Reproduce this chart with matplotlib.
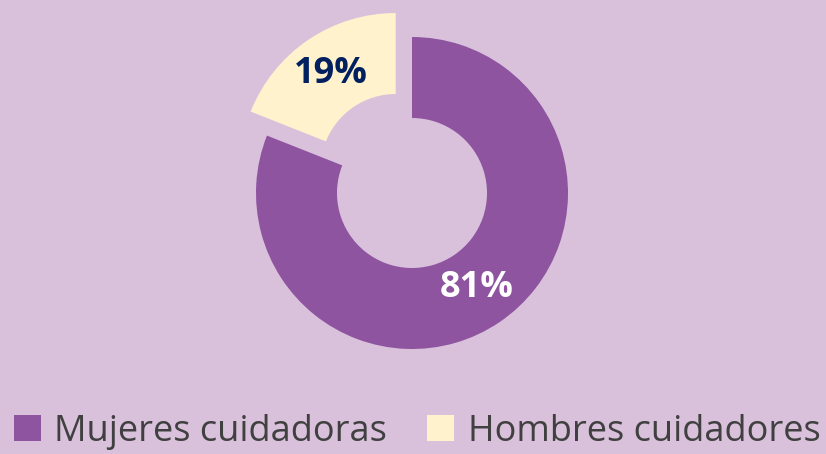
import matplotlib.pyplot as plt

# --- Cuidadores por sexo (donut) ---
labels = ['Mujeres cuidadoras', 'Hombres cuidadores']
values = [81, 19]
colors = ['#8E549F', '#FFF2CC']
pct_colors = ['white', '#002060']
bg = '#D9C1DC'

plt.rcParams['font.family'] = ['Open Sans', 'DejaVu Sans']

fig = plt.figure(figsize=(8.26, 4.54), dpi=100, facecolor=bg)
ax = fig.add_axes([0, 0, 1, 1])
ax.set_facecolor(bg)

# axes in pixel units so the ring sits where it does in the original
wedges, texts, autotexts = ax.pie(
    values, colors=colors, startangle=90, counterclock=False,
    radius=156, center=(412, 261), explode=[0, 29],
    wedgeprops=dict(width=81, linewidth=0),
    autopct='%1.0f%%', pctdistance=0.74,
    textprops=dict(fontsize=26, fontweight='bold'))
for t, c in zip(autotexts, pct_colors):
    t.set_color(c)

ax.set_xlim(0, 826)
ax.set_ylim(0, 454)
ax.set_aspect('equal')
ax.axis('off')

leg = ax.legend(wedges, labels, loc='lower center', bbox_to_anchor=(0.505, -0.022),
                ncol=2, frameon=False, fontsize=26, labelcolor='#404040',
                handlelength=0.75, handleheight=0.75, handletextpad=0.38,
                columnspacing=1.1, borderaxespad=0)

fig.savefig('out.png', dpi=100, facecolor=bg)
